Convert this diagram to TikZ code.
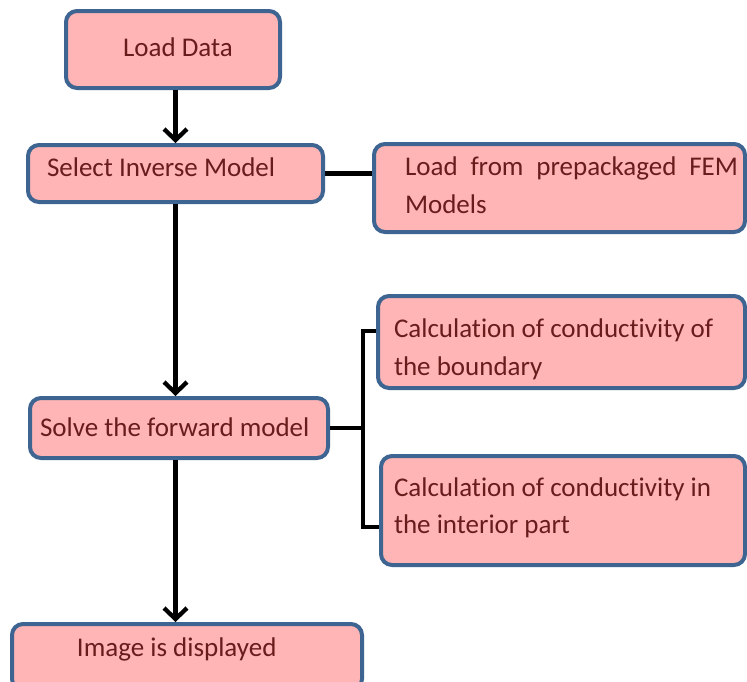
\documentclass[tikz,border=0pt]{standalone}
\usepackage{fontspec}
\setmainfont{Carlito}[Ligatures=NoCommon]
\usetikzlibrary{arrows.meta}
\definecolor{boxfill}{RGB}{255,181,181}
\definecolor{boxline}{RGB}{62,100,145}
\definecolor{boxtext}{RGB}{105,28,28}
% #1 raise of last baseline above box centre, #2 left pad, #3 text width, #4 text
\newcommand\boxtxt[4]{\hspace*{#2}\raisebox{#1}[0pt][0pt]{\parbox[b]{#3}{#4}}}
\tikzset{
  flowbox/.style={draw=boxline, line width=4pt, fill=boxfill, rounded corners=11pt,
    inner sep=0pt, text=boxtext,
    font=\fontsize{27}{38}\selectfont},
  link/.style={line width=4.3pt, draw=black},
  arr/.style={link, -{Straight Barb[length=11pt,width=23pt,line width=4.3pt]}}
}
\begin{document}
\begin{tikzpicture}[x=1pt,y=-1pt]
\clip (0,0) rectangle (747,681);
\fill[white] (0,0) rectangle (747,681);
\node[flowbox, minimum height=77pt] (load) at (173,49.5)
  {\boxtxt{-6.5pt}{57pt}{157pt}{\raggedright Load Data}};
\node[flowbox, minimum height=57pt] (select) at (175.5,173.5)
  {\boxtxt{-3.2pt}{19pt}{276pt}{\raggedright Select Inverse Model}};
\node[flowbox, minimum height=88pt] (prepack) at (559.5,188)
  {\boxtxt{-25.3pt}{31pt}{340pt}{\rightskip=7pt Load from prepackaged FEM\linebreak Models}};
\node[flowbox, minimum height=92pt] (bound) at (561.5,342)
  {\boxtxt{-33pt}{16pt}{351pt}{\raggedright Calculation of conductivity of\\the boundary}};
\node[flowbox, minimum height=109pt] (inter) at (563,510.5)
  {\boxtxt{-22.8pt}{13pt}{351pt}{\raggedright\baselineskip=36.7pt Calculation of conductivity in\\the interior part}};
\node[flowbox, minimum height=60pt] (solve) at (179,428)
  {\boxtxt{-8.7pt}{10pt}{288pt}{\raggedright Solve the forward model}};
\node[flowbox, minimum height=66pt] (image) at (187,657)
  {\boxtxt{0.3pt}{65pt}{285pt}{\raggedright Image is displayed}};
\coordinate (j1) at (363,331);
\coordinate (j2) at (363,527);
\draw[arr] (load.south -| select.south) -- (select.north);
\draw[link] (select.east) -- (select.east -| prepack.west);
\draw[arr] (select.south) -- (select.south |- solve.north);
\draw[arr] (solve.south -| select.south) -- (select.south |- image.north);
\draw[link] (solve.east) -- (solve.east -| j1);
\draw[link] (j1 -| bound.west) -- (j1) -- (j2) -- (j2 -| inter.west);
\end{tikzpicture}
\end{document}
